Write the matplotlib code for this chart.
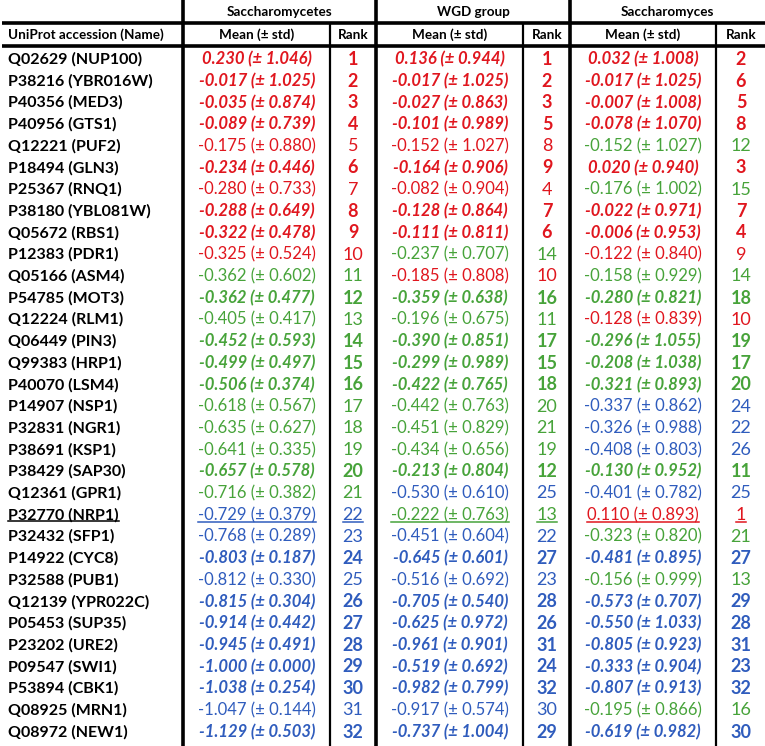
import matplotlib
matplotlib.use("Agg")
from matplotlib import pyplot as plt

plt.rcParams['font.family'] = ['Lato', 'DejaVu Sans']

names = ["Q02629 (NUP100)", "P38216 (YBR016W)", "P40356 (MED3)", "P40956 (GTS1)",
         "Q12221 (PUF2)", "P18494 (GLN3)", "P25367 (RNQ1)", "P38180 (YBL081W)",
         "Q05672 (RBS1)", "P12383 (PDR1)", "Q05166 (ASM4)", "P54785 (MOT3)",
         "Q12224 (RLM1)", "Q06449 (PIN3)", "Q99383 (HRP1)", "P40070 (LSM4)",
         "P14907 (NSP1)", "P32831 (NGR1)", "P38691 (KSP1)", "P38429 (SAP30)",
         "Q12361 (GPR1)", "P32770 (NRP1)", "P32432 (SFP1)", "P14922 (CYC8)",
         "P32588 (PUB1)", "Q12139 (YPR022C)", "P05453 (SUP35)", "P23202 (URE2)",
         "P09547 (SWI1)", "P53894 (CBK1)", "Q08925 (MRN1)", "Q08972 (NEW1)"]

# rows shown in bold italic
highlight = [1, 1, 1, 1, 0, 1, 0, 1, 1, 0, 0, 1, 0, 1, 1, 1,
             0, 0, 0, 1, 0, 0, 0, 1, 0, 1, 1, 1, 1, 1, 0, 1]
underlined = "P32770 (NRP1)"

groups = ["Saccharomycetes", "WGD group", "Saccharomyces"]

sce_mean = [0.230, -0.017, -0.035, -0.089, -0.175, -0.234, -0.280, -0.288,
            -0.322, -0.325, -0.362, -0.362, -0.405, -0.452, -0.499, -0.506,
            -0.618, -0.635, -0.641, -0.657, -0.716, -0.729, -0.768, -0.803,
            -0.812, -0.815, -0.914, -0.945, -1.000, -1.038, -1.047, -1.129]
sce_std = [1.046, 1.025, 0.874, 0.739, 0.880, 0.446, 0.733, 0.649,
           0.478, 0.524, 0.602, 0.477, 0.417, 0.593, 0.497, 0.374,
           0.567, 0.627, 0.335, 0.578, 0.382, 0.379, 0.289, 0.187,
           0.330, 0.304, 0.442, 0.491, 0.000, 0.254, 0.144, 0.503]
sce_rank = list(range(1, 33))

wgd_mean = [0.136, -0.017, -0.027, -0.101, -0.152, -0.164, -0.082, -0.128,
            -0.111, -0.237, -0.185, -0.359, -0.196, -0.390, -0.299, -0.422,
            -0.442, -0.451, -0.434, -0.213, -0.530, -0.222, -0.451, -0.645,
            -0.516, -0.705, -0.625, -0.961, -0.519, -0.982, -0.917, -0.737]
wgd_std = [0.944, 1.025, 0.863, 0.989, 1.027, 0.906, 0.904, 0.864,
           0.811, 0.707, 0.808, 0.638, 0.675, 0.851, 0.989, 0.765,
           0.763, 0.829, 0.656, 0.804, 0.610, 0.763, 0.604, 0.601,
           0.692, 0.540, 0.972, 0.901, 0.692, 0.799, 0.574, 1.004]
wgd_rank = [1, 2, 3, 5, 8, 9, 4, 7, 6, 14, 10, 16, 11, 17, 15, 18,
            20, 21, 19, 12, 25, 13, 22, 27, 23, 28, 26, 31, 24, 32, 30, 29]

sac_mean = [0.032, -0.017, -0.007, -0.078, -0.152, 0.020, -0.176, -0.022,
            -0.006, -0.122, -0.158, -0.280, -0.128, -0.296, -0.208, -0.321,
            -0.337, -0.326, -0.408, -0.130, -0.401, 0.110, -0.323, -0.481,
            -0.156, -0.573, -0.550, -0.805, -0.333, -0.807, -0.195, -0.619]
sac_std = [1.008, 1.025, 1.008, 1.070, 1.027, 0.940, 1.002, 0.971,
           0.953, 0.840, 0.929, 0.821, 0.839, 1.055, 1.038, 0.893,
           0.862, 0.988, 0.803, 0.952, 0.782, 0.893, 0.820, 0.895,
           0.999, 0.707, 1.033, 0.923, 0.904, 0.913, 0.866, 0.982]
sac_rank = [2, 6, 5, 8, 12, 3, 15, 7, 4, 9, 14, 18, 10, 19, 17, 20,
            24, 22, 26, 11, 25, 1, 21, 27, 13, 29, 28, 31, 23, 32, 16, 30]

RED, GREEN, BLUE = '#e0161e', '#47a33a', '#2f5cbd'


def rank_color(r):
    if r <= 10:
        return RED
    if r <= 21:
        return GREEN
    return BLUE


W, H = 765, 746
fig = plt.figure(figsize=(W / 100, H / 100), dpi=100)
ax = fig.add_axes([0, 0, 1, 1])
ax.set_xlim(0, W)
ax.set_ylim(H, 0)
ax.axis('off')

top = 48.5
row_h = 21.7
mean_x = [257, 450, 643]
rank_x = [353, 547, 741]
thick_x = [183, 376, 570]
thin_x = [330, 523, 716]
group_x = [(183 + 376) / 2, (376 + 570) / 2, (570 + W) / 2]

# lines
for x in thick_x:
    ax.plot([x, x], [0, H], color='black', lw=2.6, solid_capstyle='butt')
for x in thin_x:
    ax.plot([x, x], [23, H], color='black', lw=1.6, solid_capstyle='butt')
for y in [23, 46]:
    ax.plot([2, W], [y, y], color='black', lw=2.6, solid_capstyle='butt')

# headers
hfs = 9.7
for g, gx, mx, rx in zip(groups, group_x, mean_x, rank_x):
    ax.text(gx, 11.5, g, ha='center', va='center', fontsize=hfs, fontweight='bold')
    ax.text(mx, 35, "Mean (± std)", ha='center', va='center', fontsize=hfs,
            fontweight='bold')
    ax.text(rx, 35, "Rank", ha='center', va='center', fontsize=hfs,
            fontweight='bold')
ax.text(8, 35, "UniProt accession (Name)", ha='left', va='center', fontsize=hfs,
        fontweight='bold')

to_underline = []
cols = [(sce_mean, sce_std, sce_rank), (wgd_mean, wgd_std, wgd_rank),
        (sac_mean, sac_std, sac_rank)]
for i, name in enumerate(names):
    y = top + (i + 0.5) * row_h
    t = ax.text(8, y, name, ha='left', va='center', fontsize=11.5, fontweight='bold')
    if name == underlined:
        to_underline.append((t, 'black'))
    bold = highlight[i] == 1
    for (mean, std, rank), mx, rx in zip(cols, mean_x, rank_x):
        c = rank_color(rank[i])
        t1 = ax.text(mx, y, f"{mean[i]:.3f} (± {std[i]:.3f})", ha='center', va='center',
                     fontsize=12, color=c, fontweight='bold' if bold else 'normal',
                     fontstyle='italic' if bold else 'normal')
        t2 = ax.text(rx, y, str(rank[i]), ha='center', va='center', fontsize=13,
                     color=c, fontweight='bold' if bold else 'normal')
        if name == underlined:
            to_underline.append((t1, c))
            to_underline.append((t2, c))

fig.canvas.draw()
renderer = fig.canvas.get_renderer()
inv = ax.transData.inverted()
for t, c in to_underline:
    bb = t.get_window_extent(renderer)
    (x0, y0), (x1, _) = inv.transform([[bb.x0, bb.y0], [bb.x1, bb.y0]])
    ax.plot([x0, x1], [y0 - 1, y0 - 1], color=c, lw=1.1)

fig.savefig("out.png", dpi=100)
